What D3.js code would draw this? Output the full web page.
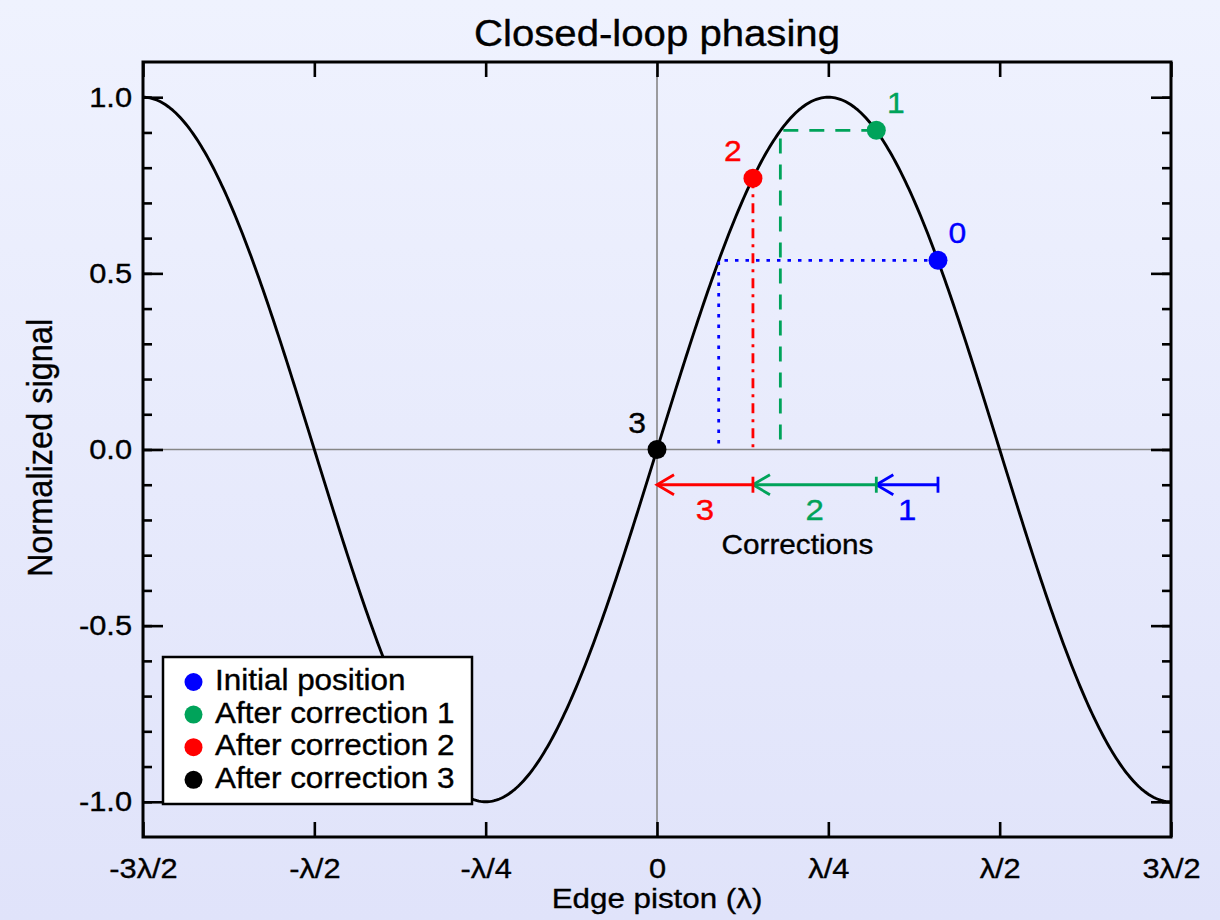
<!DOCTYPE html>
<html>
<head>
<meta charset="utf-8">
<script src="https://cdn.jsdelivr.net/npm/d3@7"></script>
<style>
  html, body { margin: 0; padding: 0; }
  body { width: 1220px; height: 920px; overflow: hidden; }
  svg text { font-family: "Liberation Sans", Arial, Helvetica, sans-serif; fill: #000; stroke-width: 0.35px; }
</style>
</head>
<body>
<svg id="chart" width="1220" height="920"></svg>
<script>
// Edge piston ticks (units of wavelength) and their labels
const pistonTicks = [-0.75, -0.5, -0.25, 0, 0.25, 0.5, 0.75];
const pistonTickLabels = ["-3\u03bb/2", "-\u03bb/2", "-\u03bb/4", "0", "\u03bb/4", "\u03bb/2", "3\u03bb/2"];
const signalTicks = [-1.0, -0.5, 0.0, 0.5, 1.0];
const signalTickLabels = ["-1.0", "-0.5", "0.0", "0.5", "1.0"];
const signalMinorTicks = [-1.0, -0.9, -0.8, -0.7, -0.6, -0.5, -0.4, -0.3, -0.2, -0.1, 0.0,
                          0.1, 0.2, 0.3, 0.4, 0.5, 0.6, 0.7, 0.8, 0.9, 1.0];

// Loop iterations: piston position and measured signal at each step
const stepNames = ["Initial position", "After correction 1", "After correction 2", "After correction 3"];
const stepTags = ["0", "1", "2", "3"];
const stepColors = ["#0000ff", "#00a35a", "#ff0000", "#000000"];
const stepPistons = [0.41, 0.32, 0.14, 0.0];
const stepSignals = [0.537, 0.906, 0.770, 0.0];
// Piston read back on the rising side of the fringe for the measured signal
const readoutPistons = [0.090, 0.180, 0.14];
const readoutDash = ["3.5 7", "15 11", "10 6 3 6"];
// Correction arrows drawn below the zero line
const correctionLevel = -0.1;
const correctionTags = ["1", "2", "3"];

const W = 1220, H = 920;
const margin = { left: 143, right: 49, top: 62, bottom: 83 };
const SX = 1.1; // horizontal glyph stretch used for all text

const svg = d3.select("#chart");
const defs = svg.append("defs");
const grad = defs.append("linearGradient").attr("id", "bg").attr("x1", 0).attr("y1", 0).attr("x2", 0).attr("y2", 1);
grad.append("stop").attr("offset", "0%").attr("stop-color", "#eff2fe");
grad.append("stop").attr("offset", "100%").attr("stop-color", "#e0e3fa");
svg.append("rect").attr("width", W).attr("height", H).attr("fill", "url(#bg)");

const x = d3.scaleLinear().domain([-0.75, 0.75]).range([margin.left, W - margin.right]);
const y = d3.scaleLinear().domain([-1.1, 1.1]).range([H - margin.bottom, margin.top]);

// Stretch glyphs horizontally and give them a hairline outline in their own colour
function stretchText(sel) {
  sel.each(function () {
    const t = d3.select(this);
    const prev = t.attr("transform") || "";
    t.attr("transform", prev + " scale(" + SX + ",1)");
    t.style("stroke", t.style("fill"));
  });
}

// Crosshair through the origin
svg.append("line").attr("x1", x(0)).attr("x2", x(0)).attr("y1", y(1.1)).attr("y2", y(-1.1))
  .attr("stroke", "#868686").attr("stroke-width", 1.6);
svg.append("line").attr("x1", x(-0.75)).attr("x2", x(0.75)).attr("y1", y(0)).attr("y2", y(0))
  .attr("stroke", "#868686").attr("stroke-width", 1.6);

// Axes: ticks point inward on all four sides
const axisStyle = g => {
  g.select(".domain").remove();
  g.selectAll(".tick line").attr("stroke", "#000").attr("stroke-width", 2.6);
};

svg.append("g").attr("transform", `translate(${x.range()[0]},0)`)
  .call(d3.axisLeft(y).tickValues(signalMinorTicks).tickSize(-9).tickFormat(""))
  .call(axisStyle);
svg.append("g").attr("transform", `translate(${x.range()[1]},0)`)
  .call(d3.axisRight(y).tickValues(signalMinorTicks).tickSize(-9).tickFormat(""))
  .call(axisStyle);
svg.append("g").attr("transform", `translate(${x.range()[1]},0)`)
  .call(d3.axisRight(y).tickValues(signalTicks).tickSize(-20).tickFormat(""))
  .call(axisStyle);
const yAxis = svg.append("g").attr("transform", `translate(${x.range()[0]},0)`)
  .call(d3.axisLeft(y).tickValues(signalTicks).tickSize(-20).tickPadding(10)
    .tickFormat((d, i) => signalTickLabels[i]))
  .call(axisStyle);
yAxis.selectAll("text").attr("font-size", 28).attr("fill", "#000").call(stretchText);

const xAxis = svg.append("g").attr("transform", `translate(0,${y.range()[0]})`)
  .call(d3.axisBottom(x).tickValues(pistonTicks).tickSize(-15).tickPadding(21)
    .tickFormat((d, i) => pistonTickLabels[i]))
  .call(axisStyle);
xAxis.selectAll("text").attr("font-size", 28).attr("fill", "#000").call(stretchText);
svg.append("g").attr("transform", `translate(0,${y.range()[1]})`)
  .call(d3.axisTop(x).tickValues(pistonTicks).tickSize(-15).tickFormat(""))
  .call(axisStyle);

// Plot frame
svg.append("rect").attr("x", x.range()[0]).attr("y", y.range()[1])
  .attr("width", x.range()[1] - x.range()[0]).attr("height", y.range()[0] - y.range()[1])
  .attr("fill", "none").attr("stroke", "#000").attr("stroke-width", 3);

// Fringe response: normalized signal versus edge piston
const curveX = d3.range(-0.75, 0.75 + 1e-9, 0.0025);
const line = d3.line().x(d => x(d)).y(d => y(Math.sin(2 * Math.PI * d)));
svg.append("path").datum(curveX).attr("d", line)
  .attr("fill", "none").attr("stroke", "#000").attr("stroke-width", 2.9);

// Read-out guides from each measured signal down to the piston axis
readoutPistons.forEach((rp, i) => {
  const pts = [[stepPistons[i], stepSignals[i]], [rp, stepSignals[i]], [rp, 0]];
  svg.append("path")
    .attr("d", d3.line().x(d => x(d[0])).y(d => y(d[1]))(pts))
    .attr("fill", "none").attr("stroke", stepColors[i]).attr("stroke-width", 2.8)
    .attr("stroke-dasharray", readoutDash[i]);
});

// Correction arrows: bar at the start, open head at the end
const ay = y(correctionLevel);
correctionTags.forEach((tag, i) => {
  const c = stepColors[i];
  const x0 = x(stepPistons[i]), x1 = x(stepPistons[i + 1]);
  const g = svg.append("g").attr("stroke", c).attr("stroke-width", 2.8).attr("fill", "none");
  g.append("line").attr("x1", x0).attr("x2", x1).attr("y1", ay).attr("y2", ay);
  g.append("line").attr("x1", x0).attr("x2", x0).attr("y1", ay - 8).attr("y2", ay + 8);
  g.append("path").attr("d", `M${x1 + 17},${ay - 10} L${x1},${ay} L${x1 + 17},${ay + 10}`);
  svg.append("text").attr("transform", `translate(${(x0 + x1) / 2},${ay + 35})`)
    .attr("text-anchor", "middle").attr("font-size", 30).style("fill", c).text(tag)
    .call(stretchText);
});
svg.append("text")
  .attr("transform", `translate(${(x(stepPistons[0]) + x(stepPistons[3])) / 2},${ay + 69})`)
  .attr("text-anchor", "middle").attr("font-size", 27).style("fill", "#000").text("Corrections").call(stretchText);

// Step markers and their numbers
const tagOffset = [19.5, 19.5, -20, -20];
stepPistons.forEach((p, i) => {
  svg.append("circle").attr("cx", x(p)).attr("cy", y(stepSignals[i])).attr("r", 9.5)
    .attr("fill", stepColors[i]);
  svg.append("text")
    .attr("transform", `translate(${x(p) + tagOffset[i]},${y(stepSignals[i]) - 17})`)
    .attr("text-anchor", "middle").attr("font-size", 29).style("fill", stepColors[i])
    .text(stepTags[i]).call(stretchText);
});

// Legend
const legend = svg.append("g").attr("transform", "translate(163,657)");
legend.append("rect").attr("width", 309).attr("height", 147)
  .attr("fill", "#fff").attr("stroke", "#000").attr("stroke-width", 2.5);
stepNames.forEach((name, i) => {
  legend.append("circle").attr("cx", 30.5).attr("cy", 25 + i * 32.6).attr("r", 9).attr("fill", stepColors[i]);
  legend.append("text").attr("transform", `translate(52,${33 + i * 32.6})`)
    .attr("font-size", 28.6).style("fill", "#000").text(name).call(stretchText);
});

// Titles
svg.append("text").attr("transform", `translate(${(x.range()[0] + x.range()[1]) / 2},46)`)
  .attr("text-anchor", "middle").attr("font-size", 36.5).style("fill", "#000")
  .text("Closed-loop phasing").call(stretchText);
svg.append("text").attr("transform", `translate(${(x.range()[0] + x.range()[1]) / 2},908)`)
  .attr("text-anchor", "middle").attr("font-size", 28.5).style("fill", "#000")
  .text("Edge piston (\u03bb)").call(stretchText);
svg.append("text").attr("transform", `translate(52,448) rotate(-90) scale(1,${SX})`)
  .attr("text-anchor", "middle").attr("font-size", 32.5)
  .style("fill", "#000").style("stroke", "#000").text("Normalized signal");
</script>
</body>
</html>
